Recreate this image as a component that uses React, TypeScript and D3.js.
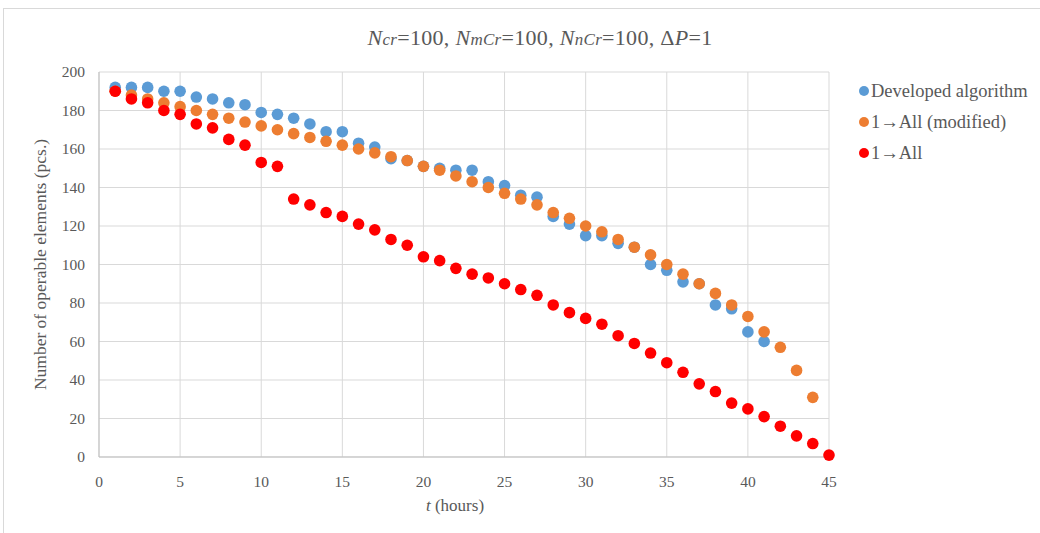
import React from "react";
import * as d3 from "d3";

const hours = d3.range(1, 46);
const developed = [192,192,192,190,190,187,186,184,183,179,178,176,173,169,169,163,161,155,154,151,150,149,149,143,141,136,135,125,121,115,115,111,109,100,97,91,90,79,77,65,60];
const modified = [190,188,186,184,182,180,178,176,174,172,170,168,166,164,162,160,158,156,154,151,149,146,143,140,137,134,131,127,124,120,117,113,109,105,100,95,90,85,79,73,65,57,45,31];
const oneToAll = [190,186,184,180,178,173,171,165,162,153,151,134,131,127,125,121,118,113,110,104,102,98,95,93,90,87,84,79,75,72,69,63,59,54,49,44,38,34,28,25,21,16,11,7,1];
const xTicks = [0,5,10,15,20,25,30,35,40,45];
const yTicks = [0,20,40,60,80,100,120,140,160,180,200];
const seriesNames = ["Developed algorithm", "1\u2192All (modified)", "1\u2192All"];
const seriesColors = ["#5B9BD5", "#ED7D31", "#FF0000"];

export default function App() {
  const W = 1040, H = 533;
  const x = d3.scaleLinear().domain([0, 45]).range([99, 829]);
  const y = d3.scaleLinear().domain([0, 200]).range([457, 72]);
  const series = [developed, modified, oneToAll];
  const font = "'Liberation Serif', 'Times New Roman', serif";
  return (
    <svg width={W} height={H} style={{ position: "absolute", left: 0, top: 0, background: "#fff" }} fontFamily={font}>
      <rect x={3.5} y={8.5} width={1040} height={530} fill="#fff" stroke="#d9d9d9" />
      {yTicks.map(t => (
        <line key={"gy" + t} x1={x(0)} x2={x(45)} y1={y(t)} y2={y(t)} stroke="#d9d9d9" strokeWidth={1} />
      ))}
      {xTicks.map(t => (
        <line key={"gx" + t} x1={x(t)} x2={x(t)} y1={y(0)} y2={y(200)} stroke="#d9d9d9" strokeWidth={1} />
      ))}
      <line x1={x(0)} x2={x(45)} y1={y(0)} y2={y(0)} stroke="#bfbfbf" />
      <line x1={x(0)} x2={x(0)} y1={y(0)} y2={y(200)} stroke="#bfbfbf" />
      {yTicks.map(t => (
        <text key={"ty" + t} x={85} y={y(t) + 5} textAnchor="end" fontSize={15.5} fill="#595959">{t}</text>
      ))}
      {xTicks.map(t => (
        <text key={"tx" + t} x={x(t)} y={487} textAnchor="middle" fontSize={15.5} fill="#595959">{t}</text>
      ))}
      {series.map((s, si) => s.map((v, i) => (
        <circle key={si + "-" + i} cx={x(hours[i])} cy={y(v)} r={5.8} fill={seriesColors[si]} />
      )))}
      <text x={540} y={45} textAnchor="middle" fontSize={22} fill="#595959" letterSpacing={0.3}>
        <tspan fontStyle="italic">N</tspan><tspan fontStyle="italic" fontSize={17}>cr</tspan>=100, <tspan fontStyle="italic">N</tspan><tspan fontStyle="italic" fontSize={17}>mCr</tspan>=100, <tspan fontStyle="italic">N</tspan><tspan fontStyle="italic" fontSize={17}>nCr</tspan>=100, Δ<tspan fontStyle="italic">P</tspan>=1
      </text>
      <text x={455} y={511} textAnchor="middle" fontSize={17} fill="#595959">
        <tspan fontStyle="italic">t</tspan> (hours)
      </text>
      <text transform={`translate(46,${y(100)}) rotate(-90)`} textAnchor="middle" fontSize={17.5} fill="#595959">
        Number of operable elements (pcs.)
      </text>
      {seriesNames.map((n, i) => (
        <g key={n} transform={`translate(0,${91 + i * 31})`}>
          <circle cx={864} cy={0} r={5} fill={seriesColors[i]} />
          <text x={871} y={6} fontSize={18.5} fill="#595959">{n}</text>
        </g>
      ))}
    </svg>
  );
}
